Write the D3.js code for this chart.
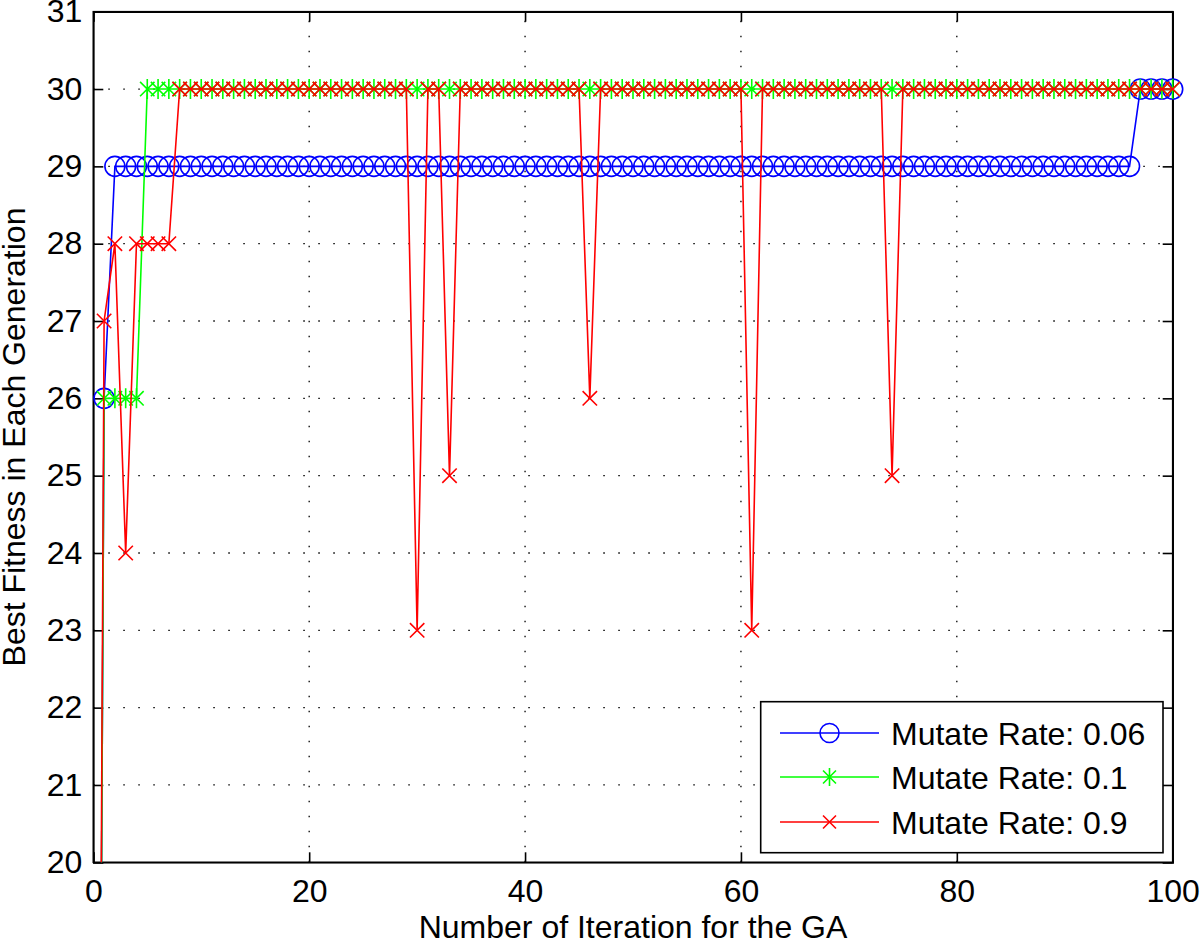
<!DOCTYPE html>
<html><head><meta charset="utf-8">
<script src="https://cdn.jsdelivr.net/npm/d3@7"></script>
<style>
body{margin:0;background:#fff;}
text{font-family:"Liberation Sans",Arial,Helvetica,sans-serif;}
</style></head>
<body><svg id="c" width="1200" height="943"></svg>
<script>
// iterations 0..100
const iterations = d3.range(0, 101);
function build(segs){ // segs: [[fromX,toX,value],...]
  const a = new Array(101).fill(null);
  segs.forEach(([f,t,v])=>{for(let i=f;i<=t;i++)a[i]=v;});
  return a;
}
const rate006 = build([[0,0,0],[1,1,26],[2,96,29],[97,100,30]]);
const rate01  = build([[0,0,0],[1,4,26],[5,100,30]]);
const rate09  = build([[0,0,0],[1,1,27],[2,2,28],[3,3,24],[4,7,28],[8,29,30],[30,30,23],[31,32,30],[33,33,25],[34,45,30],[46,46,26],[47,60,30],[61,61,23],[62,73,30],[74,74,25],[75,100,30]]);
const seriesNames = ["Mutate Rate: 0.06","Mutate Rate: 0.1","Mutate Rate: 0.9"];
const seriesColors = ["#0000ff","#00ff00","#ff0000"];
const seriesMarkers = ["circle","star","x"];
const xTicks = [0,20,40,60,80,100];
const yTicks = [20,21,22,23,24,25,26,27,28,29,30,31];
const xLabel = "Number of Iteration for the GA";
const yLabel = "Best Fitness in Each Generation";

const L=93.3,R=1172.7,T=11.7,B=862.3;
const svg=d3.select("#c");
const x=d3.scaleLinear().domain([0,100]).range([L,R]);
const y=d3.scaleLinear().domain([20,31]).range([B,T]);

svg.append("defs").append("clipPath").attr("id","clip").append("rect")
  .attr("x",L).attr("y",T).attr("width",R-L).attr("height",B-T);

// grid
const g=svg.append("g");
g.selectAll(".gx").data(xTicks.slice(1,-1)).enter().append("line")
 .attr("x1",d=>x(d)).attr("x2",d=>x(d)).attr("y1",B).attr("y2",T)
 .attr("stroke","#000").attr("stroke-width",1.3).attr("stroke-dasharray","1.5,13.5");
g.selectAll(".gy").data(yTicks.slice(1,-1)).enter().append("line")
 .attr("y1",d=>y(d)).attr("y2",d=>y(d)).attr("x1",L).attr("x2",R)
 .attr("stroke","#000").attr("stroke-width",1.3).attr("stroke-dasharray","1.5,13.5");

// axes
const fs=32;
const ax=svg.append("g").attr("transform",`translate(0,${B})`)
 .call(d3.axisBottom(x).tickValues(xTicks).tickSize(-10).tickPadding(17).tickFormat(d3.format("d")));
const axT=svg.append("g").attr("transform",`translate(0,${T})`)
 .call(d3.axisTop(x).tickValues(xTicks).tickSize(-10).tickFormat(""));
const ay=svg.append("g").attr("transform",`translate(${L},0)`)
 .call(d3.axisLeft(y).tickValues(yTicks).tickSize(-10).tickPadding(11).tickFormat(d3.format("d")));
const ayR=svg.append("g").attr("transform",`translate(${R},0)`)
 .call(d3.axisRight(y).tickValues(yTicks).tickSize(-10).tickFormat(""));
[ax,axT,ay,ayR].forEach(a=>{
  a.select(".domain").attr("stroke","#000").attr("stroke-width",1.6);
  a.selectAll(".tick line").attr("stroke","#000").attr("stroke-width",1.6);
  a.selectAll("text").attr("font-size",fs).attr("fill","#000")
   .style("font-family",'"Liberation Sans",Arial,sans-serif');
});
svg.append("rect").attr("x",L).attr("y",T).attr("width",R-L).attr("height",B-T)
 .attr("fill","none").attr("stroke","#000").attr("stroke-width",1.6);

svg.append("text").attr("x",(L+R)/2).attr("y",938).attr("text-anchor","middle")
 .attr("font-size",fs).text(xLabel);
svg.append("text").attr("transform",`translate(25,${(T+B)/2}) rotate(-90)`)
 .attr("text-anchor","middle").attr("font-size",fs).text(yLabel);

function drawMarker(sel,type,color,cx,cy,s){
  if(type==="circle"){
    sel.append("circle").attr("cx",cx).attr("cy",cy).attr("r",s)
      .attr("fill","none").attr("stroke",color).attr("stroke-width",1.6);
  } else if(type==="x"){
    const d=s*0.72;
    sel.append("path").attr("d",`M${cx-d},${cy-d}L${cx+d},${cy+d}M${cx-d},${cy+d}L${cx+d},${cy-d}`)
      .attr("stroke",color).attr("stroke-width",1.6).attr("fill","none");
  } else {
    const d=s*0.72;
    sel.append("path").attr("d",`M${cx},${cy-s}L${cx},${cy+s}M${cx-d},${cy-d}L${cx+d},${cy+d}M${cx-d},${cy+d}L${cx+d},${cy-d}`)
      .attr("stroke",color).attr("stroke-width",1.6).attr("fill","none");
  }
}

const all=[rate006,rate01,rate09];
const line=d3.line().x((d,i)=>x(iterations[i])).y(d=>y(d));
all.forEach((vals,k)=>{
  const sg=svg.append("g");
  sg.append("path").datum(vals).attr("d",line).attr("clip-path","url(#clip)")
    .attr("fill","none").attr("stroke",seriesColors[k]).attr("stroke-width",1.6);
  vals.forEach((v,i)=>{
    if(v>=20 && v<=31) drawMarker(sg,seriesMarkers[k],seriesColors[k],x(iterations[i]),y(v),10);
  });
});

// legend
const lg=svg.append("g");
lg.append("rect").attr("x",760.7).attr("y",701.7).attr("width",1163-760.7).attr("height",852.7-701.7)
  .attr("fill","#fff").attr("stroke","#000").attr("stroke-width",1.6);
const rows=[733,777,822];
seriesNames.forEach((n,k)=>{
  lg.append("line").attr("x1",780).attr("x2",879).attr("y1",rows[k]).attr("y2",rows[k])
    .attr("stroke",seriesColors[k]).attr("stroke-width",1.6);
  drawMarker(lg,seriesMarkers[k],seriesColors[k],829.5,rows[k],k===0?9.5:9);
  lg.append("text").attr("x",891).attr("y",rows[k]).attr("dy","0.36em").attr("font-size",fs).text(n);
});
</script></body></html>
